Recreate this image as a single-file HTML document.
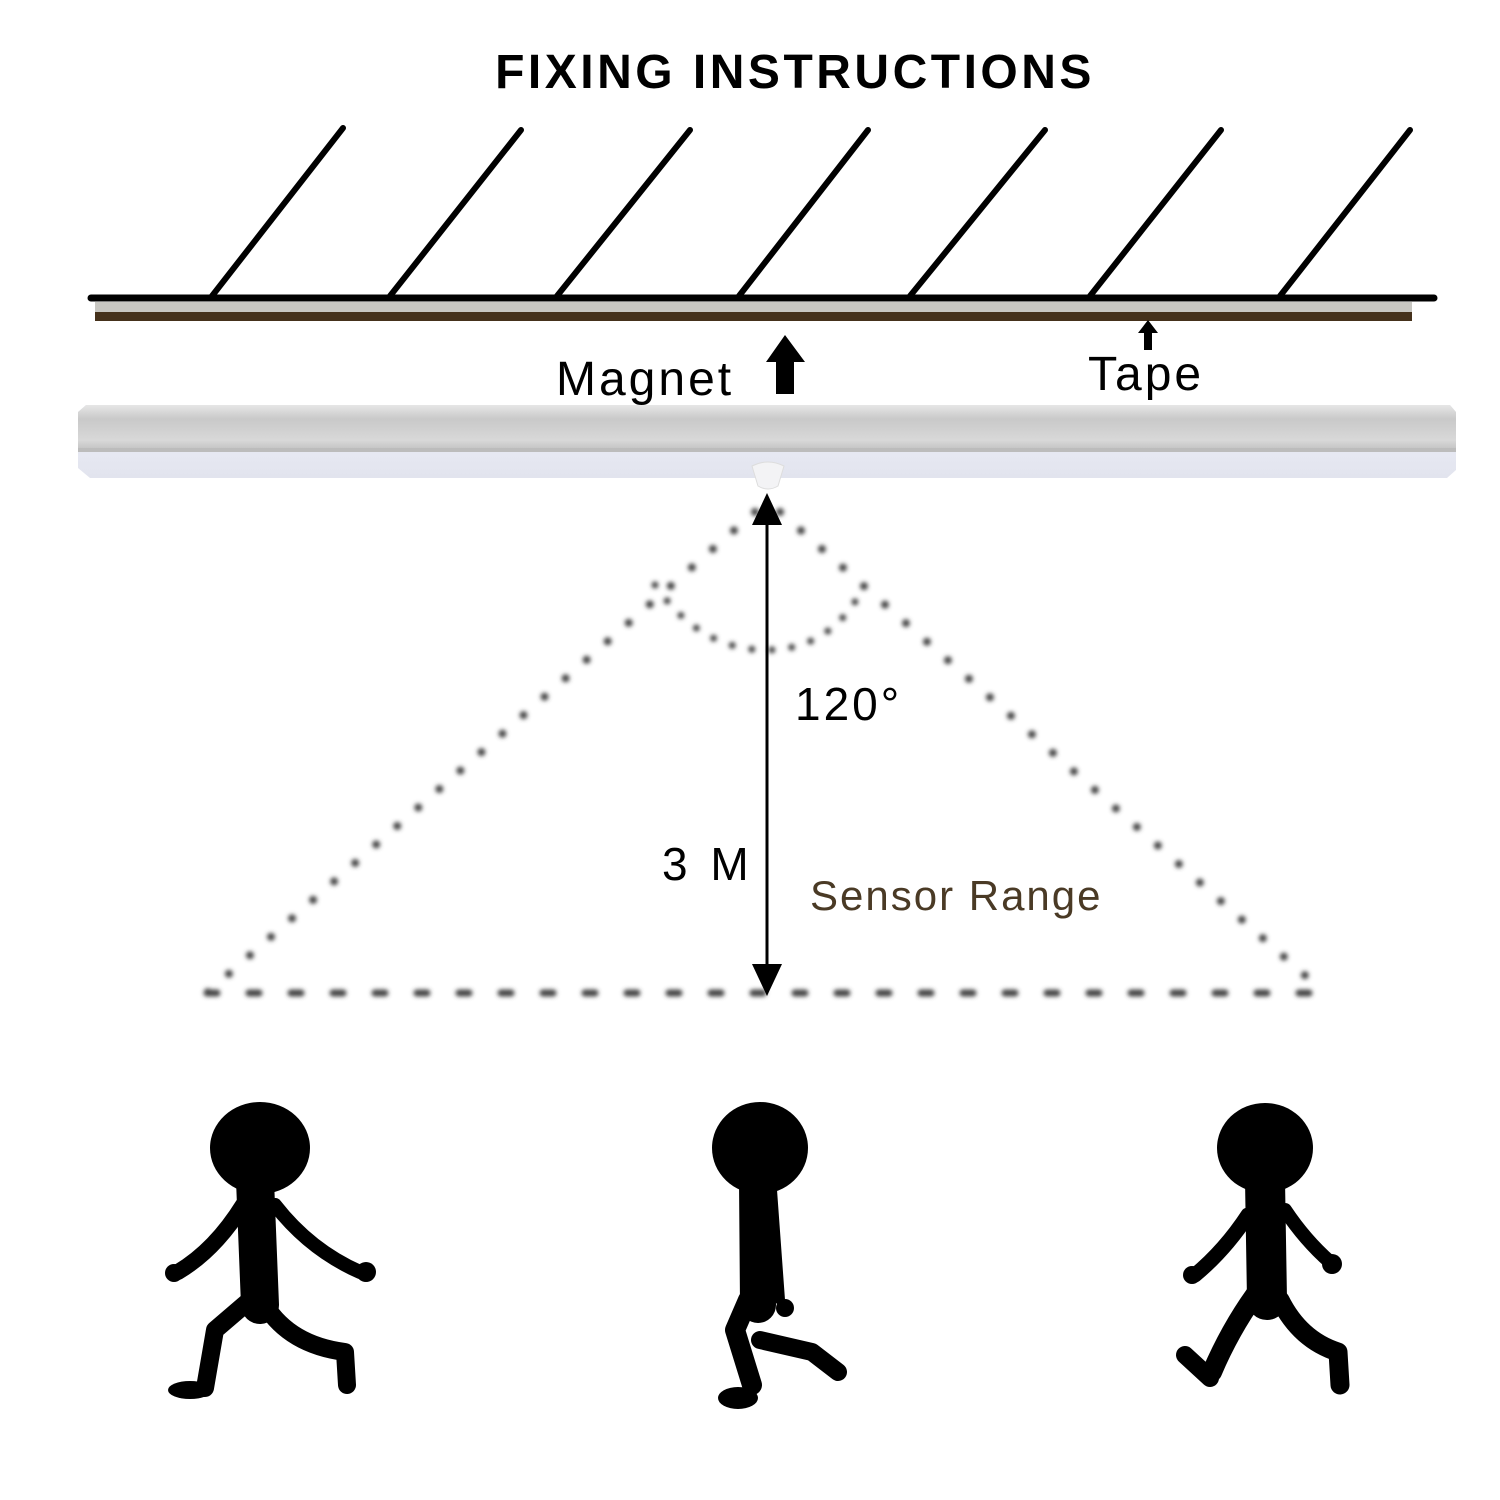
<!DOCTYPE html>
<html><head><meta charset="utf-8"><style>
html,body{margin:0;padding:0;background:#fff}
svg{display:block}
</style></head><body>
<svg width="1500" height="1500" viewBox="0 0 1500 1500" xmlns="http://www.w3.org/2000/svg">
<defs>
<filter id="bl" x="-5%" y="-5%" width="110%" height="110%"><feGaussianBlur stdDeviation="2"/></filter>
<linearGradient id="top" x1="0" y1="0" x2="0" y2="1">
<stop offset="0" stop-color="#e6e6e6"/><stop offset="0.3" stop-color="#c9c9c9"/><stop offset="0.75" stop-color="#d8d8d8"/><stop offset="1" stop-color="#bdbdbd"/>
</linearGradient>
<linearGradient id="bot" x1="0" y1="0" x2="0" y2="1">
<stop offset="0" stop-color="#eef0fa"/><stop offset="1" stop-color="#e2e4ee"/>
</linearGradient>
</defs>
<rect width="1500" height="1500" fill="#fff"/>
<text x="795" y="88" text-anchor="middle" font-family="Liberation Sans, sans-serif" font-weight="bold" font-size="48" letter-spacing="3.5">FIXING INSTRUCTIONS</text>

<g stroke="#000" stroke-width="6" stroke-linecap="round">
<line x1="212" y1="296" x2="343" y2="128"/>
<line x1="390" y1="296" x2="521" y2="130"/>
<line x1="557" y1="296" x2="690" y2="130"/>
<line x1="739" y1="296" x2="868" y2="130"/>
<line x1="910" y1="296" x2="1045" y2="130"/>
<line x1="1090" y1="296" x2="1221" y2="130"/>
<line x1="1280" y1="296" x2="1410" y2="130"/>
<line x1="91" y1="298" x2="1434" y2="298" stroke-width="7"/>
</g>
<rect x="95" y="302" width="1317" height="10" fill="#c8c7c2"/>
<rect x="95" y="312" width="1317" height="9" fill="#45311b"/>

<text x="556" y="395" font-family="Liberation Sans, sans-serif" font-size="48" letter-spacing="3">Magnet</text>
<polygon points="766,362 785,335 805,362 794,362 794,394 776,394 776,362" fill="#000"/>
<polygon points="1138,333 1148,320 1158,333 1152,333 1152,350 1144,350 1144,333" fill="#000"/>
<text x="1088" y="390" font-family="Liberation Sans, sans-serif" font-size="48" letter-spacing="3">Tape</text>

<path d="M86,405 L1450,405 L1456,412 L1456,470 L1447,478 L90,478 L78,468 L78,412 Z" fill="url(#bot)"/>
<path d="M86,405 L1450,405 L1456,412 L1456,452 L78,452 L78,412 Z" fill="url(#top)"/>
<rect x="78" y="448" width="1378" height="4" fill="#bcbcbc"/>
<path d="M752,466 Q768,458 784,466 L778,486 Q768,492 758,486 Z" fill="#f3f3f5" stroke="#ddd"/>

<g filter="url(#bl)" fill="none" stroke="#444" stroke-width="8" stroke-linecap="round">
<line x1="755" y1="512" x2="207" y2="993" stroke-dasharray="0 28"/>
<line x1="780" y1="512" x2="1325" y2="993" stroke-dasharray="0 28"/>
<line x1="207" y1="993" x2="1325" y2="993" stroke-dasharray="10 32" stroke-width="7"/>
<path d="M655,585 Q700,650 766,650 Q830,650 862,590" stroke-dasharray="0 20" stroke-width="7"/>
</g>

<line x1="767" y1="520" x2="767" y2="970" stroke="#000" stroke-width="3"/>
<polygon points="752,525 767,493 782,525" fill="#000"/>
<polygon points="752,964 767,996 782,964" fill="#000"/>

<text x="795" y="720" font-family="Liberation Sans, sans-serif" font-size="46" letter-spacing="3">120°</text>
<text x="662" y="880" font-family="Liberation Sans, sans-serif" font-size="46" letter-spacing="5">3 M</text>
<text x="810" y="910" font-family="Liberation Sans, sans-serif" font-size="42" letter-spacing="2" fill="#4a3a25">Sensor Range</text>

<g fill="#000" stroke="#000" stroke-linecap="round" stroke-linejoin="round">
<!-- figure 1 -->
<ellipse cx="260" cy="1148" rx="50" ry="46" stroke="none"/>
<path d="M255,1180 L260,1305" stroke-width="38" fill="none"/>
<path d="M243,1205 Q215,1250 178,1272" stroke-width="16" fill="none"/>
<path d="M275,1205 Q310,1250 360,1272" stroke-width="14" fill="none"/>
<path d="M250,1300 L215,1330 L205,1388" stroke-width="18" fill="none"/>
<path d="M265,1305 Q290,1345 345,1352 L347,1385" stroke-width="18" fill="none"/>
<ellipse cx="190" cy="1390" rx="22" ry="9" stroke="none"/>
<circle cx="174" cy="1273" r="9" stroke="none"/>
<circle cx="366" cy="1272" r="10" stroke="none"/>
<!-- figure 2 -->
<ellipse cx="760" cy="1148" rx="48" ry="46" stroke="none"/>
<path d="M757,1180 L758,1305" stroke-width="36" fill="none"/>
<path d="M772,1190 L780,1300" stroke-width="10" fill="none"/>
<circle cx="785" cy="1308" r="9" stroke="none"/>
<path d="M748,1300 L735,1330 L752,1385" stroke-width="20" fill="none"/>
<path d="M760,1340 L812,1352 L838,1372" stroke-width="18" fill="none"/>
<ellipse cx="738" cy="1398" rx="20" ry="11" stroke="none"/>
<!-- figure 3 -->
<ellipse cx="1265" cy="1148" rx="48" ry="45" stroke="none"/>
<path d="M1265,1180 L1267,1300" stroke-width="40" fill="none"/>
<path d="M1248,1215 Q1225,1250 1195,1275" stroke-width="15" fill="none"/>
<path d="M1285,1210 Q1305,1240 1330,1262" stroke-width="14" fill="none"/>
<circle cx="1192" cy="1275" r="9" stroke="none"/>
<circle cx="1332" cy="1264" r="10" stroke="none"/>
<path d="M1255,1295 Q1230,1330 1212,1372" stroke-width="20" fill="none"/>
<path d="M1280,1300 Q1300,1340 1338,1352 L1340,1385" stroke-width="19" fill="none"/>
<path d="M1185,1355 L1210,1378" stroke-width="18" fill="none"/>
</g>
</svg>
</body></html>
